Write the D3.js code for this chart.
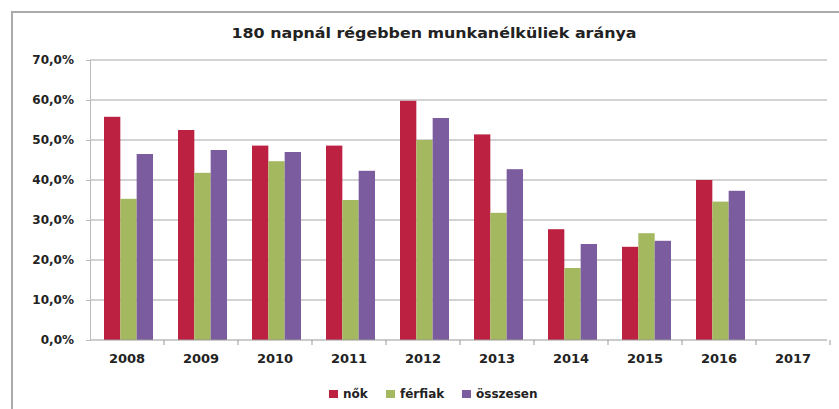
<!DOCTYPE html>
<html>
<head>
<meta charset="utf-8">
<script src="https://cdn.jsdelivr.net/npm/d3@7"></script>
<style>
  body { margin: 0; background: #fff; }
  text { font-family: "DejaVu Sans", "Open Sans", sans-serif; font-weight: bold; fill: #222; }
</style>
</head>
<body>
<script>
var years = ["2008", "2009", "2010", "2011", "2012", "2013", "2014", "2015", "2016", "2017"];
var nok = [55.8, 52.5, 48.6, 48.6, 59.8, 51.4, 27.7, 23.3, 40.0, null];
var ferfiak = [35.3, 41.8, 44.7, 35.0, 50.0, 31.8, 18.0, 26.7, 34.6, null];
var osszesen = [46.5, 47.5, 47.0, 42.3, 55.5, 42.7, 24.0, 24.8, 37.3, null];
var seriesNames = ["nők", "férfiak", "összesen"];
var yTicks = [0, 10, 20, 30, 40, 50, 60, 70];

var chart = (function() {
    var w = 839, h = 409;
    var colors = ["#bc2142", "#a3b85f", "#7b5c9e"];
    var series = [nok, ferfiak, osszesen];

    var svg = d3.select("body")
                .append("svg")
                .attr("width", w)
                .attr("height", h);

    // outer frame (right and bottom are cut off in the picture)
    svg.append("path")
        .attr("d", "M12," + h + "V12H" + w)
        .attr("fill", "none")
        .attr("stroke", "#aaa")
        .attr("stroke-width", 2);

    svg.append("text")
        .attr("x", 434)
        .attr("y", 38)
        .attr("text-anchor", "middle")
        .attr("textLength", 405)
        .attr("lengthAdjust", "spacingAndGlyphs")
        .style("font-size", "14px")
        .text("180 napnál régebben munkanélküliek aránya");

    var xScale = d3.scaleBand()
                    .domain(years)
                    .range([90, 830]);

    var yScale = d3.scaleLinear()
                    .domain([0, 70])
                    .range([340, 60]);

    var inner = d3.scaleBand()
                    .domain([0, 1, 2])
                    .range([14, xScale.bandwidth() - 11]);

    svg.append("g")
        .selectAll("line")
        .data(yTicks.filter(d => d > 0))
        .enter()
        .append("line")
        .attr("x1", 90)
        .attr("x2", 827)
        .attr("y1", d => yScale(d))
        .attr("y2", d => yScale(d))
        .attr("stroke", "#a8a8a8")
        .attr("stroke-width", 1.2);

    series.forEach(function(vals, s) {
        svg.append("g")
            .selectAll("rect")
            .data(vals.map((v, i) => ({year: years[i], value: v})).filter(d => d.value != null))
            .enter()
            .append("rect")
            .attr("x", d => xScale(d.year) + inner(s))
            .attr("y", d => yScale(d.value))
            .attr("width", inner.bandwidth())
            .attr("height", d => yScale(0) - yScale(d.value))
            .attr("fill", colors[s]);
    });

    var xAxis = d3.axisBottom()
                .scale(xScale)
                .tickSize(0)
                .tickPadding(14);

    var gx = svg.append("g")
        .attr("transform", "translate(0," + yScale(0) + ")")
        .call(xAxis);
    gx.select(".domain").attr("stroke", "#999").attr("d", "M90,0H827");
    gx.selectAll("text").style("font-size", "13px");

    // category boundary tick marks
    gx.append("g")
        .selectAll("line")
        .data(years)
        .enter()
        .append("line")
        .attr("x1", d => xScale(d) + xScale.bandwidth())
        .attr("x2", d => xScale(d) + xScale.bandwidth())
        .attr("y1", 0)
        .attr("y2", 5)
        .attr("stroke", "#999");

    var yAxis = d3.axisLeft()
                .scale(yScale)
                .tickValues(yTicks)
                .tickSize(4)
                .tickPadding(12)
                .tickFormat(d => d3.format(".1f")(d).replace(".", ",") + "%");

    var gy = svg.append("g")
        .attr("transform", "translate(90,0)")
        .call(yAxis);
    gy.select(".domain").attr("stroke", "#bbb");
    gy.selectAll("line").attr("stroke", "#bbb");
    gy.selectAll("text").style("font-size", "12px");

    var legend = svg.append("g")
        .attr("transform", "translate(0,396)");
    var legX = [329, 386, 462];
    seriesNames.forEach(function(name, i) {
        legend.append("rect")
            .attr("x", legX[i])
            .attr("y", -6)
            .attr("width", 9)
            .attr("height", 8)
            .attr("fill", colors[i]);
        legend.append("text")
            .attr("x", legX[i] + 14)
            .attr("y", 2)
            .style("font-size", "12px")
            .text(name);
    });
})();
</script>
</body>
</html>
